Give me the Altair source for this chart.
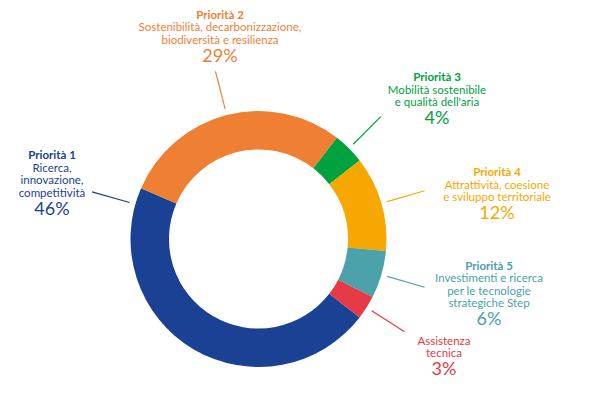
import math
import altair as alt
import pandas as pd

# ---- data ----
categories = ["Priorità 1", "Priorità 2", "Priorità 3", "Priorità 4", "Priorità 5", "Assistenza tecnica"]
shares = [46, 29, 4, 12, 6, 3]
titles = ["Priorità 1", "Priorità 2", "Priorità 3", "Priorità 4", "Priorità 5", ""]
descriptions = [
    ["Ricerca,", "innovazione,", "competitività"],
    ["Sostenibilità, decarbonizzazione,", "biodiversità e resilienza"],
    ["Mobilità sostenibile", "e qualità dell'aria"],
    ["Attrattività, coesione", "e sviluppo territoriale"],
    ["Investimenti e ricerca", "per le tecnologie", "strategiche Step"],
    ["Assistenza", "tecnica"],
]
colors = ["#1B4194", "#EE7F33", "#00A23F", "#F6A800", "#4BA2AA", "#E63A46"]

# ---- layout ----
W, H = 577, 377
CX, CY = 250.5, 231.0
R_OUT, R_IN = 128, 89.5
START_DEG = 127.8
LEAD_R1, LEAD_R2 = 134, 173
leader_angle_override = {0: 285.8}
# label anchors (x centre, y of first line)
label_anchor = [(44, 148), (212, 7.5), (429, 70), (489, 165), (481, 258.5), (436, 333.5)]
LINE_STEP = 12.5
PCT_GAP = 16
FONT = "Lato"
BODY_SIZE = 11.5

start = math.radians(START_DEG)
arc_df = pd.DataFrame({"cat": categories, "value": shares, "ord": list(range(len(shares)))})

arcs = alt.Chart(arc_df).mark_arc(outerRadius=R_OUT, innerRadius=R_IN).encode(
    theta=alt.Theta("value:Q", stack=True, scale=alt.Scale(range=[start, start + 2 * math.pi])),
    order=alt.Order("ord:Q"),
    color=alt.Color("cat:N", scale=alt.Scale(domain=categories, range=colors), legend=None),
    x=alt.value(CX),
    y=alt.value(CY),
)

# leader lines from mid angles
total = sum(shares)
rows = []
cum = 0
for i, v in enumerate(shares):
    mid = START_DEG + (cum + v / 2) / total * 360
    cum += v
    a = math.radians(leader_angle_override.get(i, mid))
    rows.append({
        "cat": categories[i],
        "x1": CX + LEAD_R1 * math.sin(a), "y1": CY - LEAD_R1 * math.cos(a),
        "x2": CX + LEAD_R2 * math.sin(a), "y2": CY - LEAD_R2 * math.cos(a),
    })
lead_df = pd.DataFrame(rows)
leaders = alt.Chart(lead_df).mark_rule(strokeWidth=1.2).encode(
    x=alt.X("x1:Q", scale=None), y=alt.Y("y1:Q", scale=None),
    x2="x2:Q", y2="y2:Q",
    color=alt.Color("cat:N", scale=alt.Scale(domain=categories, range=colors), legend=None),
)

title_rows, body_rows, pct_rows = [], [], []
for i, cat in enumerate(categories):
    x0, y0 = label_anchor[i]
    k = 0
    if titles[i]:
        title_rows.append({"cat": cat, "x": x0, "y": y0, "t": titles[i]})
        k = 1
    for line in descriptions[i]:
        body_rows.append({"cat": cat, "x": x0, "y": y0 + k * LINE_STEP, "t": line})
        k += 1
    pct_rows.append({"cat": cat, "x": x0, "y": y0 + (k - 1) * LINE_STEP + PCT_GAP, "t": f"{shares[i]}%"})

def text_layer(rows, size, weight):
    return alt.Chart(pd.DataFrame(rows)).mark_text(
        font=FONT, fontSize=size, fontWeight=weight, baseline="middle", align="center"
    ).encode(
        x=alt.X("x:Q", scale=None), y=alt.Y("y:Q", scale=None), text="t:N",
        color=alt.Color("cat:N", scale=alt.Scale(domain=categories, range=colors), legend=None),
    )

chart = alt.layer(
    arcs, leaders,
    text_layer(title_rows, BODY_SIZE, "bold"),
    text_layer(body_rows, BODY_SIZE, "normal"),
    text_layer(pct_rows, 18, "normal"),
).properties(width=W, height=H, padding=0, autosize="none").configure_view(stroke=None)

chart.save("out.html", embed_options={"renderer": "svg", "actions": False})
